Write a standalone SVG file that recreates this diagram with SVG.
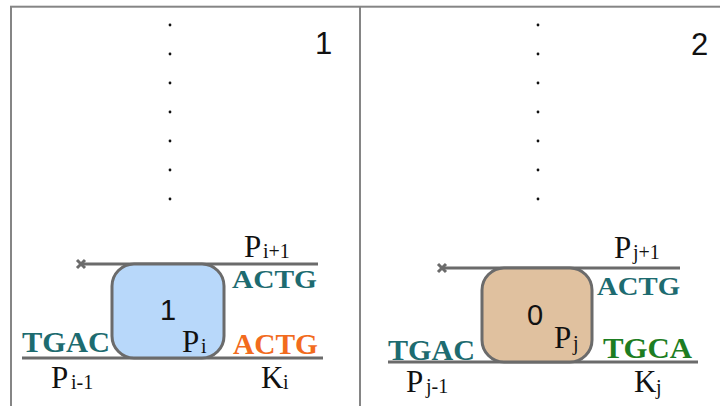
<svg xmlns="http://www.w3.org/2000/svg" width="720" height="406" viewBox="0 0 720 406">
<style>
.frame{fill:none;stroke:#858585;stroke-width:2}
.strand{stroke:#6b6b6b;stroke-width:3;fill:none}
.box{stroke:#6b6b6b;stroke-width:3}
.dot{fill:#111}
.num{font-family:"Liberation Sans",Arial,sans-serif;font-size:31px;fill:#111}
.inbox{font-size:29px}
.sym{font-family:"Liberation Serif","Times New Roman",serif;font-size:31px;fill:#111}
.sub{font-size:20px}
.seq{font-family:"Liberation Serif","Times New Roman",serif;font-weight:bold;font-size:29px}
.small{font-size:26px}
.teal{fill:#1d6b70}
.orange{fill:#f26b1d}
.green{fill:#1d7d22}
</style>
<rect class="frame" x="11" y="6.7" width="740" height="420"/>
<line class="frame" x1="360" y1="6.7" x2="360" y2="406"/>
<g id="dots1">
<circle class="dot" cx="170" cy="25" r="1.4"/><circle class="dot" cx="170" cy="54" r="1.4"/><circle class="dot" cx="170" cy="83" r="1.4"/><circle class="dot" cx="170" cy="112" r="1.4"/><circle class="dot" cx="170" cy="141" r="1.4"/><circle class="dot" cx="170" cy="170" r="1.4"/><circle class="dot" cx="170" cy="199" r="1.4"/>
</g>
<g id="dots2">
<circle class="dot" cx="538" cy="25" r="1.4"/><circle class="dot" cx="538" cy="54" r="1.4"/><circle class="dot" cx="538" cy="83" r="1.4"/><circle class="dot" cx="538" cy="112" r="1.4"/><circle class="dot" cx="538" cy="141" r="1.4"/><circle class="dot" cx="538" cy="170" r="1.4"/><circle class="dot" cx="538" cy="199" r="1.4"/>
</g>
<text class="num" x="315" y="54">1</text>
<text class="num" x="691" y="55">2</text>
<g id="connectors">
<line class="strand" x1="81" y1="264" x2="318" y2="264"/>
<path class="strand" d="M77 260 L85 268 M85 260 L77 268" stroke-width="2.5"/>
<line class="strand" x1="22" y1="358" x2="323" y2="358"/>
<line class="strand" x1="442" y1="268" x2="680" y2="268"/>
<path class="strand" d="M438 264 L446 272 M446 264 L438 272" stroke-width="2.5"/>
<line class="strand" x1="388" y1="362" x2="698" y2="362"/>
</g>
<g id="node1">
<rect class="box" x="112" y="264" width="112" height="94" rx="22" fill="#b8d8fa"/>
<text class="num inbox" x="160" y="320">1</text>
<text class="sym" x="182" y="352">P</text><text class="sym sub" x="201" y="353">i</text>
</g>
<g id="node2">
<rect class="box" x="482" y="268" width="110" height="94" rx="22" fill="#e0c19f"/>
<text class="num inbox" x="527" y="325">0</text>
<text class="sym" x="554" y="348">P</text><text class="sym sub" x="573" y="350">j</text>
</g>
<g id="labels1">
<text class="sym" x="244" y="257">P</text><text class="sym sub" x="263" y="258">i+1</text>
<text class="seq small teal" x="232" y="288" textLength="85" lengthAdjust="spacingAndGlyphs">ACTG</text>
<text class="seq teal" x="22" y="352" textLength="88" lengthAdjust="spacingAndGlyphs">TGAC</text>
<text class="seq orange" x="233" y="354" textLength="85" lengthAdjust="spacingAndGlyphs">ACTG</text>
<text class="sym" x="51" y="388">P</text><text class="sym sub" x="71" y="389">i-1</text>
<text class="sym" x="261" y="388">K</text><text class="sym sub" x="283" y="389">i</text>
</g>
<g id="labels2">
<text class="sym" x="614" y="258">P</text><text class="sym sub" x="633" y="259">j+1</text>
<text class="seq small teal" x="597" y="295" textLength="83" lengthAdjust="spacingAndGlyphs">ACTG</text>
<text class="seq teal" x="388" y="360" textLength="87" lengthAdjust="spacingAndGlyphs">TGAC</text>
<text class="seq green" x="603" y="358" textLength="89" lengthAdjust="spacingAndGlyphs">TGCA</text>
<text class="sym" x="406" y="392">P</text><text class="sym sub" x="426" y="393">j-1</text>
<text class="sym" x="634" y="392">K</text><text class="sym sub" x="656" y="394">j</text>
</g>
</svg>
